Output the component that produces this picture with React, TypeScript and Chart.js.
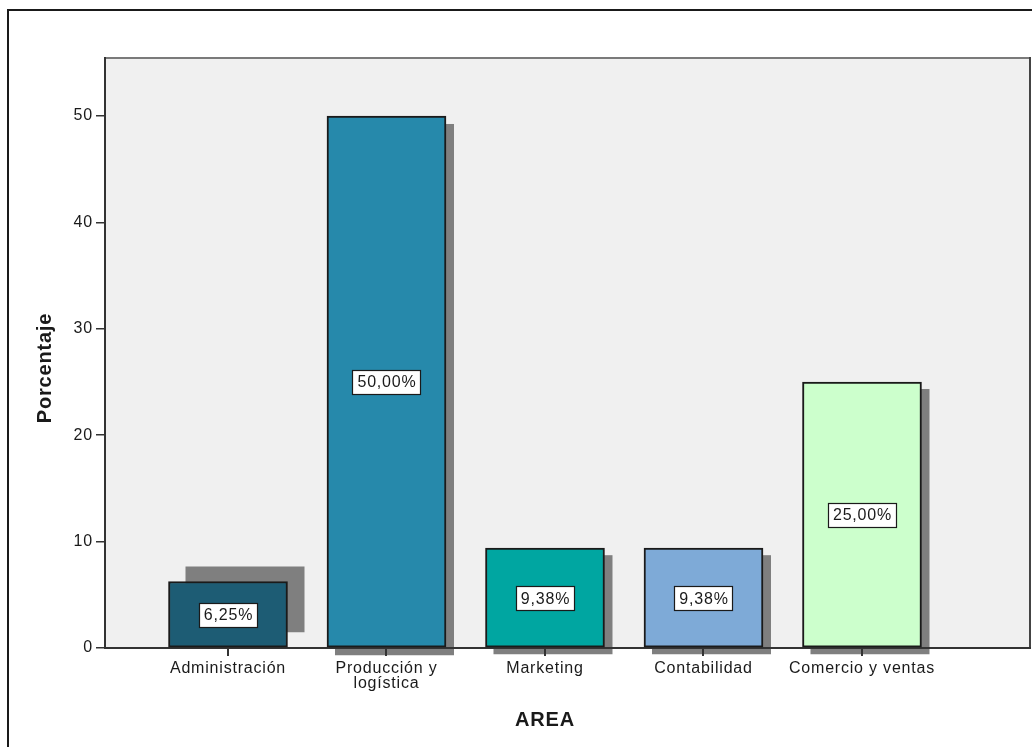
import React, { useEffect, useRef } from "react";
import { Chart, registerables } from "chart.js";

Chart.register(...registerables);

// ---- data ----
const categories: string[][] = [
  ["Administración"],
  ["Producción y", "logística"],
  ["Marketing"],
  ["Contabilidad"],
  ["Comercio y ventas"],
];
const percentages = [6.25, 50.0, 9.38, 9.38, 25.0];
const valueLabels = ["6,25%", "50,00%", "9,38%", "9,38%", "25,00%"];
const yTicks = [0, 10, 20, 30, 40, 50];
const xTitle = "AREA";
const yTitle = "Porcentaje";

// ---- style ----
const barColors = ["#1d5c74", "#2689ab", "#00a6a1", "#7eaad7", "#ccffcc"];
const shadowOffsets = [
  [17, -15],
  [8, 8],
  [8, 7],
  [8, 7],
  [8, 7],
];
const FONT = '"Liberation Sans", Arial, sans-serif';
const TEXT = "#1a1a1a";

const spssPlugin = {
  id: "spss",
  beforeDraw(chart: any) {
    const { ctx, chartArea: a } = chart;
    ctx.letterSpacing = "0.8px";
    ctx.save();
    ctx.fillStyle = "#f0f0f0";
    ctx.fillRect(a.left, a.top, a.right - a.left, a.bottom - a.top);
    // outer frame
    ctx.fillStyle = "#1a1a1a";
    ctx.fillRect(7, 9, chart.width - 7, 2);
    ctx.fillRect(7, 9, 2, chart.height - 9);
    // plot top & right borders
    ctx.fillStyle = "#7a7a7a";
    ctx.fillRect(a.left, a.top - 1, a.right - a.left, 2);
    ctx.fillStyle = "#444444";
    ctx.fillRect(a.right - 1, a.top - 1, 2, a.bottom - a.top + 1);
    // shadows
    const meta = chart.getDatasetMeta(0);
    meta.data.forEach((bar: any, i: number) => {
      const { x, y, base, width } = bar.getProps(["x", "y", "base", "width"], true);
      const [dx, dy] = shadowOffsets[i];
      ctx.fillStyle = "#7f7f7f";
      ctx.fillRect(x - width / 2 + dx, y + dy, width, base - y);
    });
    ctx.restore();
  },
  afterDatasetsDraw(chart: any) {
    const { ctx } = chart;
    const ys = chart.scales.y;
    const meta = chart.getDatasetMeta(0);
    ctx.save();
    ctx.font = `16px ${FONT}`;
    ctx.textAlign = "center";
    ctx.textBaseline = "middle";
    meta.data.forEach((bar: any, i: number) => {
      const { x } = bar.getProps(["x"], true);
      const cy = ys.getPixelForValue(percentages[i] / 2);
      const tw = ctx.measureText(valueLabels[i]).width;
      const w = Math.round(tw + 9);
      const h = 24;
      const lx = Math.round(x - w / 2) + 0.5;
      const ly = Math.round(cy - h / 2) + 0.5;
      ctx.fillStyle = "#ffffff";
      ctx.fillRect(lx, ly, w, h);
      ctx.strokeStyle = "#1a1a1a";
      ctx.lineWidth = 1.2;
      ctx.strokeRect(lx, ly, w, h);
      ctx.fillStyle = TEXT;
      ctx.fillText(valueLabels[i], x + 0.5, cy + 1);
    });
    ctx.restore();
  },
  afterDraw(chart: any) {
    const { ctx, chartArea: a } = chart;
    const xs = chart.scales.x;
    ctx.save();
    ctx.font = `bold 20px ${FONT}`;
    ctx.fillStyle = TEXT;
    ctx.textAlign = "center";
    ctx.textBaseline = "middle";
    const cx = (xs.getPixelForValue(0) + xs.getPixelForValue(categories.length - 1)) / 2;
    ctx.fillText(xTitle, cx, a.bottom + 72);
    ctx.translate(45, (a.top + a.bottom) / 2 + 15);
    ctx.rotate(-Math.PI / 2);
    ctx.fillText(yTitle, 0, 0);
    ctx.restore();
  },
};

export default function App() {
  const ref = useRef<HTMLCanvasElement | null>(null);
  useEffect(() => {
    if (!ref.current) return;
    const chart = new Chart(ref.current, {
      type: "bar",
      data: {
        datasets: [
          {
            data: percentages.map((y, i) => ({ x: i, y })) as any,
            backgroundColor: barColors,
            borderColor: "#1a1a1a",
            borderWidth: 2,
            borderSkipped: false,
            barThickness: 119,
          },
        ],
      },
      options: {
        animation: false,
        responsive: false,
        devicePixelRatio: 1,
        layout: { padding: { top: 58, right: 2, left: 0, bottom: 0 } },
        plugins: { legend: { display: false }, tooltip: { enabled: false } },
        scales: {
          x: {
            type: "linear",
            min: -0.776,
            max: 5.06,
            offset: false,
            afterBuildTicks: (s: any) => {
              s.ticks = categories.map((_, i) => ({ value: i }));
            },
            afterFit: (s: any) => {
              s.height = 99;
            },
            border: { display: true, color: "#333333", width: 2 },
            grid: {
              offset: false,
              drawOnChartArea: false,
              drawTicks: true,
              tickLength: 8,
              color: "#333333",
              lineWidth: 2,
            },
            ticks: {
              autoSkip: false,
              maxRotation: 0,
              padding: 5,
              color: TEXT,
              font: { family: FONT, size: 16, lineHeight: 0.95 },
              callback: (v: any) => categories[v] ?? "",
            },
          },
          y: {
            min: 0,
            max: 55.45,
            afterBuildTicks: (s: any) => {
              s.ticks = yTicks.map((v) => ({ value: v }));
            },
            afterFit: (s: any) => {
              s.width = 105;
            },
            border: { display: true, color: "#333333", width: 2 },
            grid: {
              drawOnChartArea: false,
              drawTicks: true,
              tickLength: 9,
              color: "#333333",
              lineWidth: 1.5,
            },
            ticks: {
              padding: 3,
              color: TEXT,
              font: { family: FONT, size: 16 },
            },
          },
        },
      },
      plugins: [spssPlugin],
    } as any);
    return () => chart.destroy();
  }, []);
  return (
    <div style={{ position: "absolute", left: 0, top: 0, width: 1032, height: 747, background: "#fff" }}>
      <canvas ref={ref} width={1032} height={747} style={{ display: "block" }} />
    </div>
  );
}
